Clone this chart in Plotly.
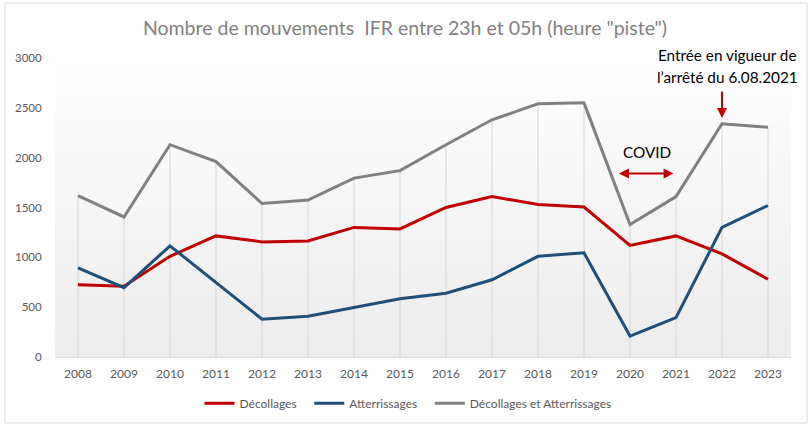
import plotly.graph_objects as go

# Data
years = [str(y) for y in range(2008, 2024)]
decollages = [725, 710, 1010, 1215, 1155, 1165, 1300, 1285, 1500, 1610, 1530, 1505, 1120, 1215, 1035, 780]
atterrissages = [895, 695, 1115, 745, 380, 410, 495, 585, 640, 775, 1010, 1045, 210, 395, 1300, 1520]
total = [1620, 1405, 2130, 1960, 1540, 1575, 1795, 1870, 2130, 2380, 2540, 2550, 1330, 1610, 2340, 2305]
y_ticks = [0, 500, 1000, 1500, 2000, 2500, 3000]

FONT = "Lato, 'Noto Sans', sans-serif"
RED = "#C00000"
BLUE = "#1F4E79"
GREY = "#808080"
PAD = "\u00a0\u00a0\u2009"  # extra room between legend entries

fig = go.Figure()

# drop lines from the highest point of each year down to the axis
drop_x, drop_y = [], []
for yr, a, b, c in zip(years, decollages, atterrissages, total):
    drop_x += [yr, yr, None]
    drop_y += [0, max(a, b, c), None]
fig.add_trace(go.Scatter(x=drop_x, y=drop_y, mode="lines",
                         line=dict(color="#d6d6d6", width=1),
                         showlegend=False, hoverinfo="skip"))

fig.add_trace(go.Scatter(x=years, y=decollages, mode="lines", name="Décollages" + PAD,
                         line=dict(color=RED, width=3)))
fig.add_trace(go.Scatter(x=years, y=atterrissages, mode="lines", name="Atterrissages" + PAD,
                         line=dict(color=BLUE, width=3)))
fig.add_trace(go.Scatter(x=years, y=total, mode="lines", name="Décollages et Atterrissages",
                         line=dict(color=GREY, width=3)))

# gradient background of the plot area (white at top -> light grey at bottom)
shapes = []
n = 40
for i in range(n):
    t = i / n
    v = int(round(255 - 19 * (1 - t)))
    shapes.append(dict(type="rect", xref="x domain", yref="y domain",
                       x0=0, x1=1, y0=t, y1=(i + 1) / n + 0.002,
                       fillcolor=f"rgb({v},{v},{v})", line=dict(width=0), layer="below"))
# outer chart border
shapes.append(dict(type="rect", xref="paper", yref="paper",
                   x0=-50 / 736, x1=752 / 736, y0=-66 / 299, y1=354 / 299,
                   line=dict(color="#d9d9d9", width=1), fillcolor="rgba(0,0,0,0)"))

i2022 = years.index("2022")
i2020 = years.index("2020")
annotations = [
    dict(text="Entrée en vigueur de", xref="paper", yref="paper",
         x=672 / 736, y=(357 - 55) / 299, xanchor="center", yanchor="middle",
         showarrow=False, font=dict(family=FONT, size=15.3, color="#000000")),
    dict(text="l’arrêté du 6.08.2021", xref="paper", yref="paper",
         x=672 / 736, y=(357 - 77) / 299, xanchor="center", yanchor="middle",
         showarrow=False, font=dict(family=FONT, size=15.3, color="#000000")),
    dict(x=i2022, y=2398, xref="x", yref="y", ax=0, ay=-28, showarrow=True, arrowhead=2,
         arrowsize=1, arrowwidth=2, arrowcolor=RED, text=""),
    dict(text="COVID", x=(647 - 55) / 736, xref="paper", xanchor="center", yref="y", y=2057,
         yanchor="middle", showarrow=False, font=dict(family=FONT, size=15.3, color="#000000")),
    # COVID double arrow between 2020 and 2021
    dict(x=i2020 - 0.24, y=1840, ax=i2020 + 0.98, ay=1840, axref="x", ayref="y",
         xref="x", yref="y", showarrow=True, arrowhead=2, arrowside="end+start",
         arrowsize=1, arrowwidth=2, arrowcolor=RED, text=""),
]

fig.update_layout(
    width=810, height=431,
    margin=dict(l=55, r=19, t=58, b=74, autoexpand=False),
    paper_bgcolor="white", plot_bgcolor="white",
    font=dict(family=FONT, size=12, color="#595959"),
    title=dict(text='Nombre de mouvements  IFR entre 23h et 05h (heure "piste")',
               x=0.5, xanchor="center", y=0.935, yanchor="middle",
               font=dict(family=FONT, size=19.5, color="#808080")),
    shapes=shapes, annotations=annotations,
    showlegend=True,
    legend=dict(orientation="h", x=353 / 736, xanchor="center", y=-0.155, yanchor="middle",
                font=dict(family=FONT, size=12, color="#595959"), itemwidth=30,
                bgcolor="rgba(0,0,0,0)"),
    xaxis=dict(type="category", range=[-0.5, len(years) - 0.5], showgrid=False,
               showline=True, linecolor="#d9d9d9", linewidth=1,
               ticks="outside", ticklen=6, tickcolor="rgba(0,0,0,0)",
               tickfont=dict(family=FONT, size=12, color="#595959"), zeroline=False),
    yaxis=dict(range=[0, 3000], tickvals=y_ticks, showgrid=False, zeroline=False,
               showline=False, ticks="outside", ticklen=10, tickcolor="rgba(0,0,0,0)",
               tickfont=dict(family=FONT, size=11.5, color="#595959")),
)

fig.write_html("out.html", config={"displayModeBar": False},
               post_script="document.body.style.margin = '0px';")
